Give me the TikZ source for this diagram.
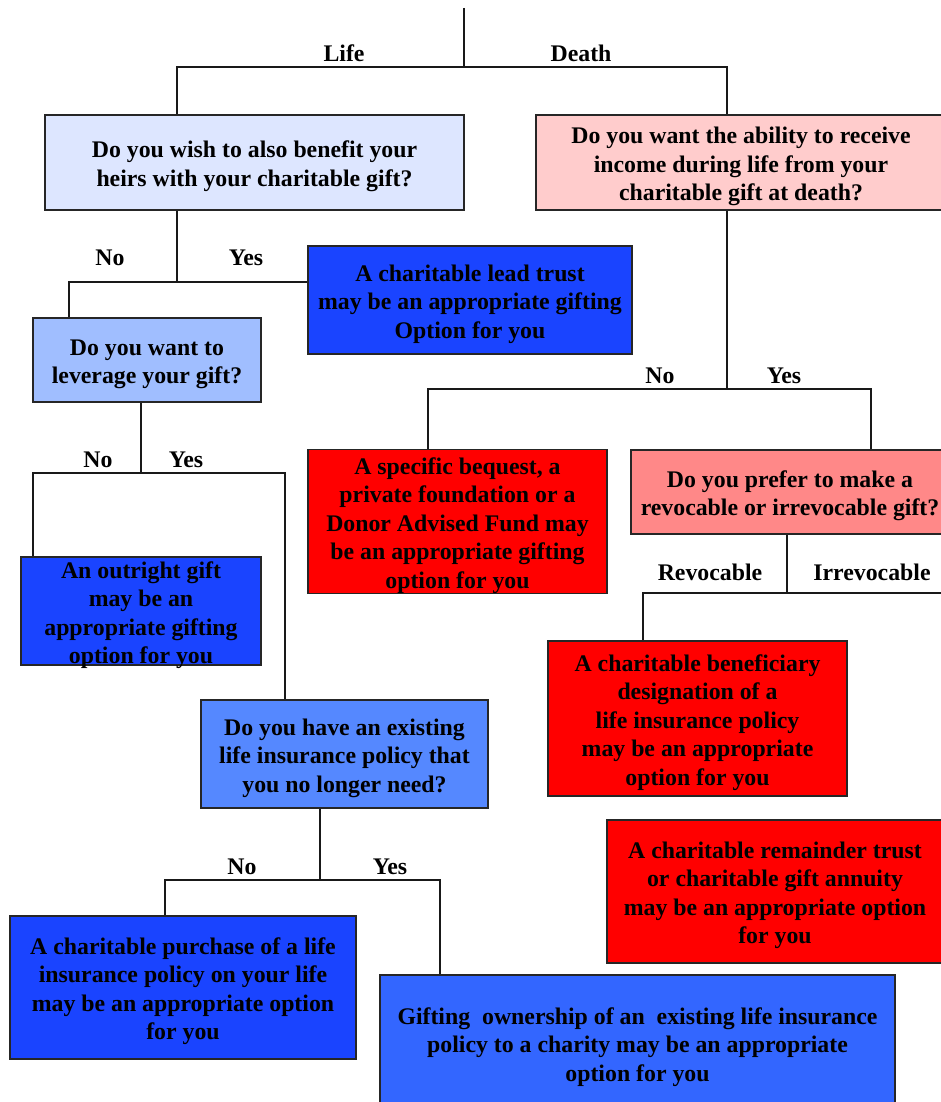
\documentclass[tikz,border=0pt]{standalone}
\usepackage{fontspec}
\setmainfont{Liberation Serif}
\usepackage{tikz}

\definecolor{askLife}{HTML}{DDE6FF}
\definecolor{askDeath}{HTML}{FFCCCC}
\definecolor{askLever}{HTML}{A0BEFF}
\definecolor{askPolicy}{HTML}{5588FF}
\definecolor{askRevoc}{HTML}{FF8888}
\definecolor{optBlue}{HTML}{1A44FF}
\definecolor{optBlueB}{HTML}{3366FF}
\definecolor{optRed}{HTML}{FF0000}

\newcommand{\upstrut}{\rule{0pt}{24.5pt}}

\tikzset{
  box/.style={draw=black!85, line width=1.5pt, inner sep=0pt, align=center,
    font=\fontsize{23.8}{28.5}\selectfont\bfseries},
  lbl/.style={inner sep=0pt, font=\fontsize{23.8}{28.5}\selectfont\bfseries},
  link/.style={line width=1.5pt, black!90}
}

\begin{document}
\begin{tikzpicture}[x=1pt,y=-1pt]
    \useasboundingbox (0,0) rectangle (940,1102);

    \node[box,fill=askLife,minimum width=419pt,minimum height=95pt] (A) at (254.5,162.5)
      {\upstrut Do you wish to also benefit your\\heirs with your charitable gift?};
    \node[box,fill=askDeath,minimum width=410pt,minimum height=95pt] (B) at (741,162.5)
      {\upstrut Do you want the ability to receive\\income during life from your\\charitable gift at death?};
    \node[box,fill=optBlue,minimum width=324pt,minimum height=108pt] (C) at (470,300)
      {\upstrut A charitable lead trust\\may be an appropriate gifting\\Option for you};
    \node[box,fill=askLever,minimum width=228pt,minimum height=84pt] (D) at (147,360)
      {\upstrut Do you want to\\leverage your gift?};
    \node[box,fill=optBlue,minimum width=240pt,minimum height=108pt,text depth=0pt] (E) at (141,611)
      {\rule{0pt}{20pt}An outright gift\\may be an\\appropriate gifting\\option for you};
    \node[box,fill=askPolicy,minimum width=287pt,minimum height=108pt] (G) at (344.5,754)
      {\upstrut Do you have an existing\\life insurance policy that\\you no longer need?};
    \node[box,fill=optBlue,minimum width=346pt,minimum height=143pt] (H) at (183,987.5)
      {\upstrut A charitable purchase of a life\\insurance policy on your life\\may be an appropriate option\\for you};
    \node[box,fill=optBlueB,minimum width=515pt,minimum height=136pt] (I) at (637.5,1043)
      {\upstrut Gifting~ ownership of an~ existing life insurance\\policy to a charity may be an appropriate\\option for you};
    \node[box,fill=optRed,minimum width=299pt,minimum height=143pt] (J) at (457.5,521.5)
      {\upstrut A specific bequest, a\\private foundation or a\\Donor Advised Fund may\\be an appropriate gifting\\option for you};
    \node[box,fill=askRevoc,minimum width=318pt,minimum height=84pt] (K) at (790,492)
      {\upstrut Do you prefer to make a\\revocable or irrevocable gift?};
    \node[box,fill=optRed,minimum width=299pt,minimum height=155pt] (L) at (697.5,718.5)
      {\upstrut A charitable beneficiary\\designation of a\\life insurance policy\\may be an appropriate\\option for you};
    \node[box,fill=optRed,minimum width=336pt,minimum height=143pt] (M) at (775,891.5)
      {\upstrut A charitable remainder trust\\or charitable gift annuity\\may be an appropriate option\\for you};

    % branch points
    \coordinate (root) at (464,8);
    \coordinate (j0) at (464,67);
    \coordinate (jA) at (177,282);
    \coordinate (jB) at (727,389);
    \coordinate (jD) at (141,473);
    \coordinate (jG) at (320,880);
    \coordinate (jK) at (787,593);
    \coordinate (kEnd) at (945,593);

    \draw[link] (root) -- (j0);
    \draw[link] (A.north -| 177,0) |- (j0) -| (B.north -| 727,0);
    \draw[link] (A.south -| jA) -- (jA);
    \draw[link] (D.north -| 69,0) |- (C.west |- jA);
    \draw[link] (B.south -| jB) -- (jB);
    \draw[link] (J.north -| 428,0) |- (jB) -| (K.north -| 871,0);
    \draw[link] (D.south -| jD) -- (jD);
    \draw[link] (E.north -| 33,0) |- (jD) -| (G.north -| 285,0);
    \draw[link] (G.south -| jG) -- (jG);
    \draw[link] (H.north -| 165,0) |- (jG) -| (I.north -| 440,0);
    \draw[link] (K.south -| jK) -- (jK);
    \draw[link] (L.north -| 643,0) |- (kEnd);

    \node[lbl] (lLife) at (344,53) {Life};
    \node[lbl] (lDeath) at (581,53) {Death};
    \node[lbl] (lNoA) at (110,258) {No};
    \node[lbl] (lYesA) at (246,258) {Yes};
    \node[lbl] (lNoB) at (660,376) {No};
    \node[lbl] (lYesB) at (784,376) {Yes};
    \node[lbl] (lNoD) at (98,460) {No};
    \node[lbl] (lYesD) at (186,460) {Yes};
    \node[lbl] (lRev) at (710,572) {Revocable};
    \node[lbl] (lIrr) at (872,572) {Irrevocable};
    \node[lbl] (lNoG) at (242,867) {No};
    \node[lbl] (lYesG) at (390,867) {Yes};
  \end{tikzpicture}
\end{document}
